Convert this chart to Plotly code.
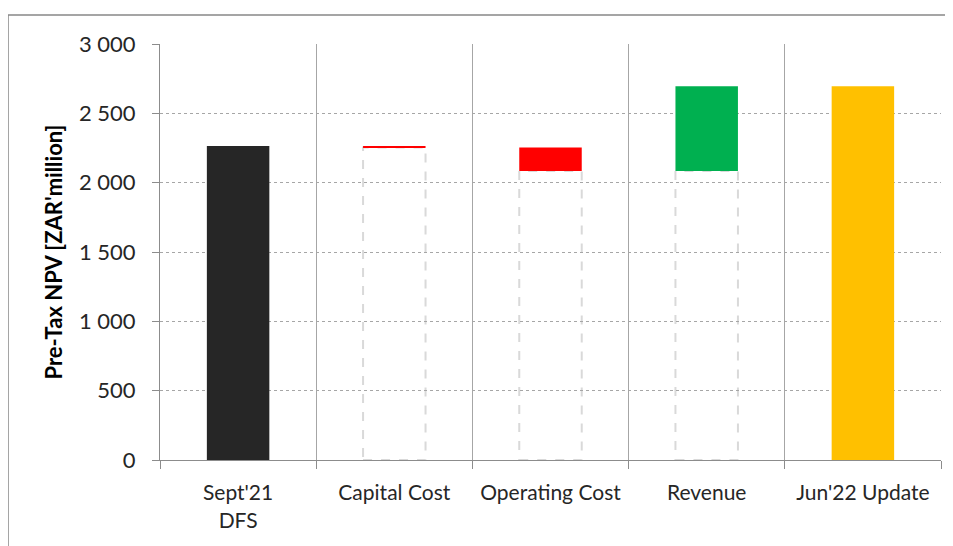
import plotly.graph_objects as go

categories = ["Sept'21<br>DFS", "Capital Cost", "Operating Cost", "Revenue", "Jun'22 Update"]
start_value = 2264
changes = [-10, -170, 611]
colors = ["#262626", "#FF0000", "#FF0000", "#00B050", "#FFC000"]

# derive bases / heights
end_value = start_value + sum(changes)
bases, heights = [0], [start_value]
running = start_value
for c in changes:
    new = running + c
    bases.append(min(running, new))
    heights.append(abs(c))
    running = new
bases.append(0)
heights.append(end_value)

BAR_W = 0.4
L, R, T, B = 152, 12, 36, 86
W, H = 945, 538
PW, PH = W - L - R, H - T - B

fig = go.Figure()
fig.add_trace(go.Bar(
    x=categories, y=heights, base=bases, width=BAR_W,
    marker=dict(color=colors, line=dict(width=0)),
    hoverinfo="skip", showlegend=False,
))

shapes = []
# dashed invisible base outlines
for i in range(1, len(categories) - 1):
    shapes.append(dict(type="rect", xref="x", yref="y",
                       x0=i - BAR_W / 2, x1=i + BAR_W / 2, y0=0, y1=bases[i],
                       line=dict(color="#d9d9d9", width=2, dash="dash"),
                       fillcolor="rgba(0,0,0,0)", layer="below"))
# outer border
shapes.append(dict(type="rect", xref="paper", yref="paper",
                   x0=(0 - L) / PW, x1=1.2, y0=-0.4, y1=1 + (T - 7) / PH,
                   line=dict(color="#888888", width=1.5), fillcolor="rgba(0,0,0,0)"))

fig.update_layout(
    width=W, height=H,
    margin=dict(l=L, r=R, t=T, b=B, autoexpand=False),
    paper_bgcolor="white", plot_bgcolor="white",
    separators=". ",
    font=dict(family="Lato, Noto Sans, sans-serif", color="#404040", size=18),
    shapes=shapes,
)
fig.update_xaxes(
    type="category", tickson="boundaries", tickangle=0, automargin=False,
    showgrid=True, gridcolor="#a6a6a6", gridwidth=1,
    showline=True, linecolor="#8c8c8c", linewidth=1,
    ticks="outside", ticklen=8, tickcolor="#8c8c8c",
    tickfont=dict(size=21, color="#262626"),
    ticklabelstandoff=14,
    range=[-0.5, 4.5],
)
fig.update_yaxes(
    range=[0, 3000], dtick=500, tickformat=",d", automargin=False,
    showgrid=True, gridcolor="#a6a6a6", griddash="dot", gridwidth=1,
    showline=True, linecolor="#8c8c8c", linewidth=1,
    ticks="outside", ticklen=7, tickcolor="#8c8c8c",
    tickfont=dict(size=22, color="#262626"),
    ticklabelstandoff=12,
    zeroline=False,
    title=dict(text="<b>Pre-Tax NPV [ZAR'million]</b>", font=dict(size=22, color="#000000"), standoff=10),
)

fig.write_html("out.html")
